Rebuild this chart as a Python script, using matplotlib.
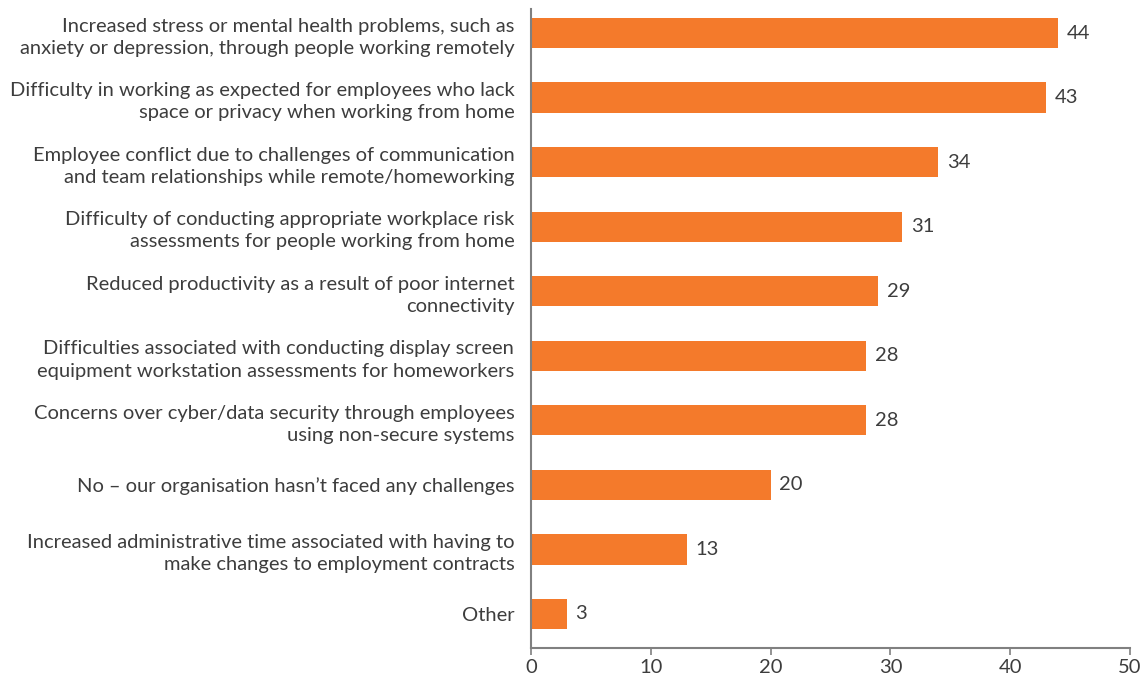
import matplotlib
matplotlib.use("Agg")
import matplotlib.pyplot as plt

# Challenges faced from remote/homeworking (% of respondents)
categorias = [
    "Increased stress or mental health problems, such as\nanxiety or depression, through people working remotely",
    "Difficulty in working as expected for employees who lack\nspace or privacy when working from home",
    "Employee conflict due to challenges of communication\nand team relationships while remote/homeworking",
    "Difficulty of conducting appropriate workplace risk\nassessments for people working from home",
    "Reduced productivity as a result of poor internet\nconnectivity",
    "Difficulties associated with conducting display screen\nequipment workstation assessments for homeworkers",
    "Concerns over cyber/data security through employees\nusing non-secure systems",
    "No \u2013 our organisation hasn\u2019t faced any challenges",
    "Increased administrative time associated with having to\nmake changes to employment contracts",
    "Other",
]
valores = [44, 43, 34, 31, 29, 28, 28, 20, 13, 3]
ticks_x = [0, 10, 20, 30, 40, 50]

naranja = "#f47a2b"
texto = "#3d3d3d"
gris = "#808080"

plt.rcParams["font.family"] = ["Lato", "DejaVu Sans"]

fig = plt.figure(figsize=(11.43, 6.79), dpi=100)
ax = fig.add_axes([0.4646, 0.0457, 0.5240, 0.9410])

pos = list(range(len(valores)))
ax.barh(pos, valores, height=0.47, color=naranja, zorder=2)

for p, v in zip(pos, valores):
    ax.text(v + 0.7, p, str(v), va="center", ha="left", fontsize=14.5, color=texto)

ax.set_yticks(pos)
ax.set_yticklabels(categorias, fontsize=14.5, color=texto, linespacing=1.38)
ax.set_xticks(ticks_x)
ax.set_xticklabels([str(t) for t in ticks_x], fontsize=14.5, color=texto)
ax.set_xlim(0, 50)
ax.set_ylim(9.527, -0.372)

for lado in ["top", "right"]:
    ax.spines[lado].set_visible(False)
for lado in ["left", "bottom"]:
    ax.spines[lado].set_color(gris)
    ax.spines[lado].set_linewidth(1.5)

ax.tick_params(axis="y", length=0, pad=12)
ax.tick_params(axis="x", length=5, width=1.2, color=gris, pad=3)

fig.savefig("out.png", dpi=100)
